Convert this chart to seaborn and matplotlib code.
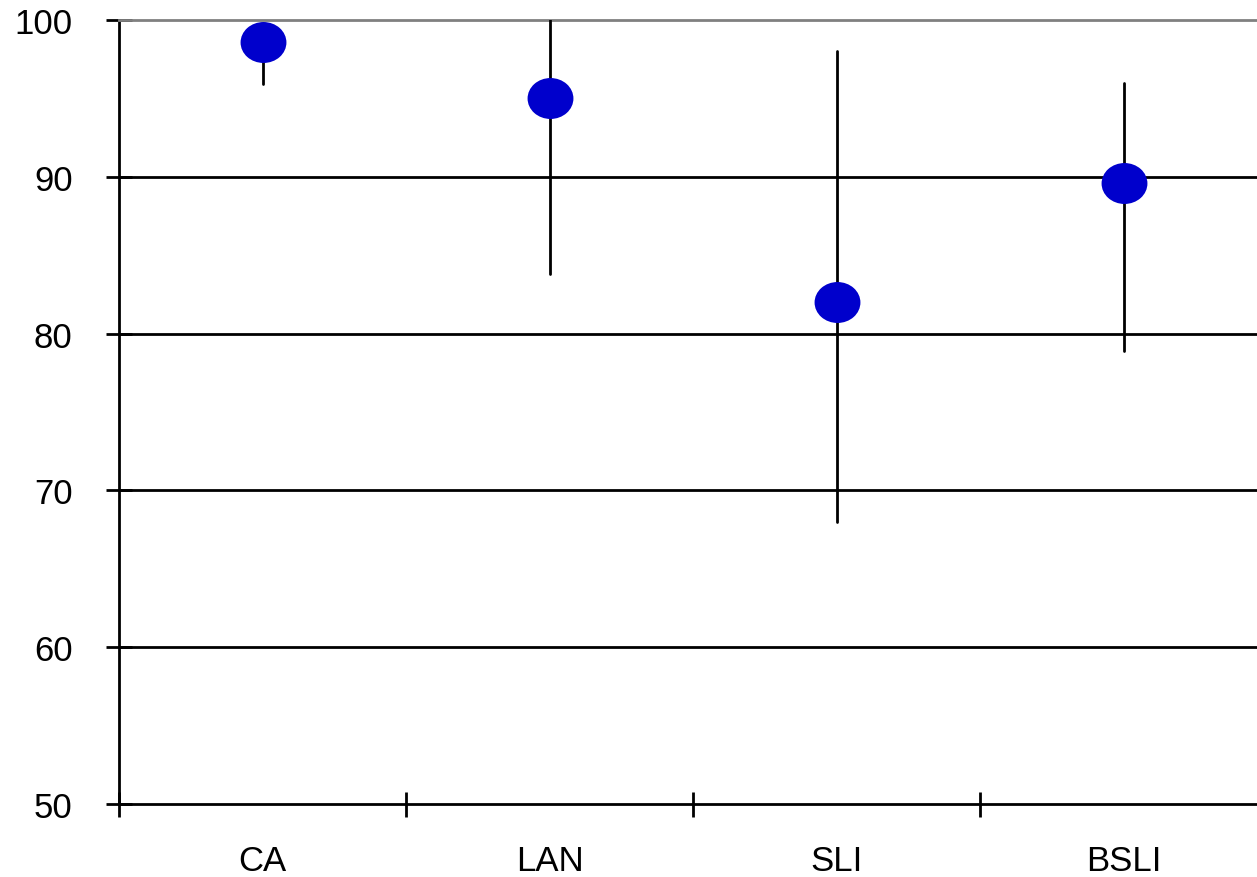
import numpy as np
import pandas as pd
import matplotlib
matplotlib.use("Agg")
import matplotlib.pyplot as plt
from matplotlib.path import Path
from matplotlib.transforms import Affine2D
import seaborn as sns

# Values
tasks = ["CA", "LAN", "SLI", "BSLI"]
means = [98.6, 95.0, 82.0, 89.6]
lows = [95.9, 83.8, 68.0, 78.9]
highs = [99.8, 100.0, 98.0, 96.0]
yticks = [50, 60, 70, 80, 90, 100]

# long table: low / mean / high per task -> median = mean, range = bar
err_df = pd.DataFrame({
    "task": np.repeat(tasks, 3),
    "value": np.ravel(np.column_stack([lows, means, highs])),
})
pts_df = pd.DataFrame({"task": tasks, "value": means})

sns.set_theme(style="white", rc={
    "axes.edgecolor": "black",
    "axes.linewidth": 2,
    "xtick.color": "black",
    "ytick.color": "black",
})
plt.rcParams["font.family"] = ["Liberation Sans", "DejaVu Sans"]

fig = plt.figure(figsize=(12.57, 8.78), dpi=100)
ax = fig.add_axes([0.0947, 0.0831, 0.9133, 0.8929])

# error bars (no markers)
sns.pointplot(
    data=err_df, x="task", y="value", order=tasks,
    estimator="median", errorbar=lambda v: (v.min(), v.max()),
    linestyle="none", marker="", color="black",
    err_kws={"linewidth": 2}, ax=ax, zorder=3,
)

# blue elliptical markers on top
ellipse = Path.unit_circle().transformed(Affine2D().scale(1.12, 1.0))
sns.scatterplot(
    data=pts_df, x="task", y="value", marker=ellipse, s=1090,
    color="#0000CC", linewidth=0, ax=ax, zorder=5, legend=False,
)

ax.set_xlim(-0.5, len(tasks) - 0.5)
ax.set_ylim(50, 100)

# horizontal gridlines
for yv in yticks[1:-1]:
    ax.axhline(yv, color="black", linewidth=2, zorder=1)

ax.spines["top"].set_color("#808080")
ax.spines["top"].set_linewidth(2)
ax.spines["right"].set_visible(False)

ax.set_yticks(yticks)
ax.set_yticklabels([str(v) for v in yticks])
ax.tick_params(axis="y", direction="inout", length=19, width=2,
               labelsize=25, pad=24, left=True)

# x: boundary ticks, labels centered on categories
ax.set_xticks(np.arange(len(tasks)) - 0.5)
ax.set_xticklabels([])
ax.set_xticks(np.arange(len(tasks)), minor=True)
ax.set_xticklabels(tasks, minor=True)
ax.tick_params(axis="x", which="major", direction="inout", length=18,
               width=2, bottom=True)
ax.tick_params(axis="x", which="minor", length=0, labelsize=25, pad=29)

ax.set_xlabel("")
ax.set_ylabel("")

fig.savefig("out.png", dpi=100)
